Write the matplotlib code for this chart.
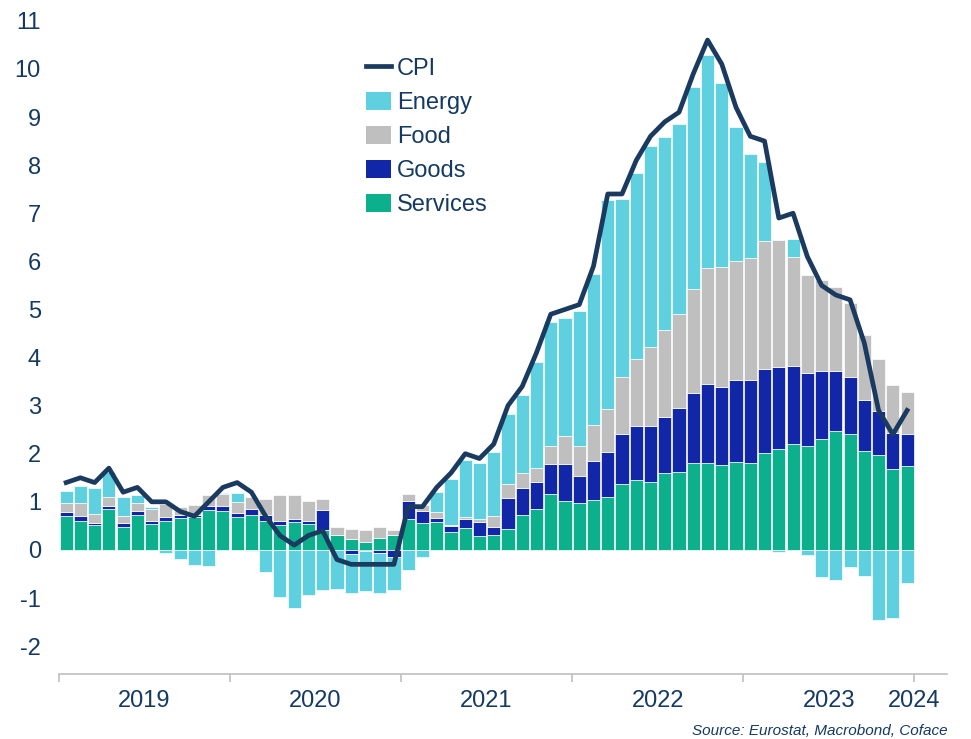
import matplotlib
matplotlib.use('Agg')
import matplotlib.pyplot as plt
from matplotlib.legend_handler import HandlerPatch
from matplotlib.patches import Rectangle
import numpy as np

# monthly, Jan 2019 .. Dec 2023 (contributions in pp, CPI in % y/y)
cpi = [1.4, 1.5, 1.4, 1.7, 1.2, 1.3, 1.0, 1.0, 0.8, 0.7, 1.0, 1.3,
       1.4, 1.2, 0.7, 0.3, 0.1, 0.3, 0.4, -0.2, -0.3, -0.3, -0.3, -0.3,
       0.9, 0.9, 1.3, 1.6, 2.0, 1.9, 2.2, 3.0, 3.4, 4.1, 4.9, 5.0,
       5.1, 5.9, 7.4, 7.4, 8.1, 8.6, 8.9, 9.1, 9.9, 10.6, 10.1, 9.2,
       8.6, 8.5, 6.9, 7.0, 6.1, 5.5, 5.3, 5.2, 4.3, 2.9, 2.4, 2.9]
services = [0.71, 0.61, 0.51, 0.86, 0.48, 0.73, 0.53, 0.60, 0.67, 0.69, 0.82, 0.80,
            0.69, 0.73, 0.60, 0.52, 0.59, 0.54, 0.42, 0.30, 0.23, 0.17, 0.24, 0.30,
            0.64, 0.55, 0.57, 0.37, 0.45, 0.28, 0.30, 0.44, 0.73, 0.86, 1.16, 1.01,
            0.98, 1.04, 1.11, 1.38, 1.45, 1.41, 1.60, 1.62, 1.80, 1.81, 1.76, 1.83,
            1.81, 2.02, 2.10, 2.20, 2.16, 2.31, 2.47, 2.41, 2.06, 1.97, 1.69, 1.75]
goods = [0.07, 0.10, 0.04, 0.06, 0.07, 0.07, 0.08, 0.08, 0.05, 0.04, 0.09, 0.11,
         0.07, 0.12, 0.12, 0.08, 0.05, 0.06, 0.41, 0.00, -0.08, -0.03, -0.07, -0.14,
         0.37, 0.25, 0.10, 0.12, 0.19, 0.31, 0.18, 0.63, 0.56, 0.55, 0.63, 0.78,
         0.55, 0.81, 0.92, 1.03, 1.13, 1.16, 1.16, 1.33, 1.47, 1.63, 1.63, 1.70,
         1.72, 1.74, 1.70, 1.63, 1.51, 1.42, 1.26, 1.19, 1.06, 0.91, 0.74, 0.65]
food = [0.19, 0.26, 0.20, 0.19, 0.16, 0.18, 0.25, 0.27, 0.17, 0.21, 0.24, 0.25,
        0.24, 0.26, 0.34, 0.54, 0.50, 0.42, 0.23, 0.18, 0.21, 0.25, 0.24, 0.12,
        0.16, 0.14, 0.12, 0.03, 0.04, 0.05, 0.23, 0.31, 0.31, 0.29, 0.38, 0.57,
        0.63, 0.75, 0.90, 1.18, 1.39, 1.65, 1.81, 1.96, 2.16, 2.42, 2.49, 2.48,
        2.53, 2.66, 2.64, 2.25, 2.05, 1.88, 1.73, 1.54, 1.34, 1.08, 1.00, 0.88]
energy = [0.26, 0.35, 0.53, 0.50, 0.38, 0.16, 0.04, -0.06, -0.18, -0.32, -0.33, 0.02,
          0.19, -0.03, -0.45, -0.98, -1.21, -0.94, -0.84, -0.81, -0.82, -0.82, -0.83, -0.69,
          -0.41, -0.15, 0.42, 0.95, 1.19, 1.16, 1.33, 1.44, 1.62, 2.21, 2.56, 2.46,
          2.80, 3.13, 4.35, 3.71, 3.87, 4.18, 4.02, 3.95, 4.20, 4.44, 3.82, 2.79,
          2.17, 1.64, -0.05, 0.38, -0.10, -0.57, -0.62, -0.35, -0.55, -1.45, -1.41, -0.68]
years = ['2019', '2020', '2021', '2022', '2023']

NAVY = '#143a63'
colors = {'Services': '#0db08d', 'Goods': '#1226a8', 'Food': '#bfbfbf', 'Energy': '#5fd0e0'}

plt.rcParams['font.family'] = ['Liberation Sans', 'DejaVu Sans']
plt.rcParams['axes.unicode_minus'] = False

fig = plt.figure(figsize=(9.71, 7.39), dpi=100)
ax = fig.add_axes([59 / 971, 1 - 674 / 739, 888 / 971, 670 / 739])

x = np.arange(len(cpi)) + 0.5
pos = np.zeros(len(x))
neg = np.zeros(len(x))
bars = {}
for name, vals in [('Services', services), ('Goods', goods), ('Food', food), ('Energy', energy)]:
    v = np.array(vals)
    bottom = np.where(v >= 0, pos, neg)
    bars[name] = ax.bar(x, v, bottom=bottom, width=0.92, color=colors[name],
                        edgecolor='white', linewidth=0.5, label=name)
    pos = pos + np.clip(v, 0, None)
    neg = neg + np.clip(v, None, 0)

line, = ax.plot(x, cpi, color='#1b3a5f', linewidth=3.4, label='CPI')

ax.set_xlim(0, 62.3)
ax.set_ylim(-2.58, 11.35)
ax.set_yticks(range(-2, 12))
ax.tick_params(axis='y', length=0, pad=13, labelsize=17, labelcolor=NAVY)

ax.set_xticks(range(0, 61, 12))
ax.set_xticklabels(['', '', '', '', '', '2024'])
ax.set_xticks(np.arange(6, 60, 12), minor=True)
ax.set_xticklabels(years, minor=True)
ax.tick_params(axis='x', which='major', length=6, width=1.2, color='#bfbfbf',
               pad=5.5, labelsize=17, labelcolor=NAVY)
ax.tick_params(axis='x', which='minor', length=0, pad=11.5, labelsize=17, labelcolor=NAVY)

for s in ['top', 'right', 'left']:
    ax.spines[s].set_visible(False)
ax.spines['bottom'].set_color('#bfbfbf')
ax.spines['bottom'].set_linewidth(1.2)


def square(legend, orig_handle, xdescent, ydescent, width, height, fontsize):
    return Rectangle((-xdescent + (width - height) / 2, -ydescent), height, height)


handles = [line, bars['Energy'], bars['Food'], bars['Goods'], bars['Services']]
leg = ax.legend(handles, ['CPI', 'Energy', 'Food', 'Goods', 'Services'],
                loc='upper left', bbox_to_anchor=(0.3457, 0.92), frameon=False,
                fontsize=17, labelcolor=NAVY, borderpad=0, borderaxespad=0,
                handlelength=1.06, handleheight=0.8, handletextpad=0.25,
                labelspacing=0.5,
                handler_map={Rectangle: HandlerPatch(patch_func=square)})
for p in leg.get_patches():
    p.set_edgecolor('none')

fig.text(948 / 971, 1 - 731 / 739, 'Source: Eurostat, Macrobond, Coface',
         ha='right', va='center', fontsize=11, style='italic', color=NAVY)

fig.savefig('out.png', dpi=100)
